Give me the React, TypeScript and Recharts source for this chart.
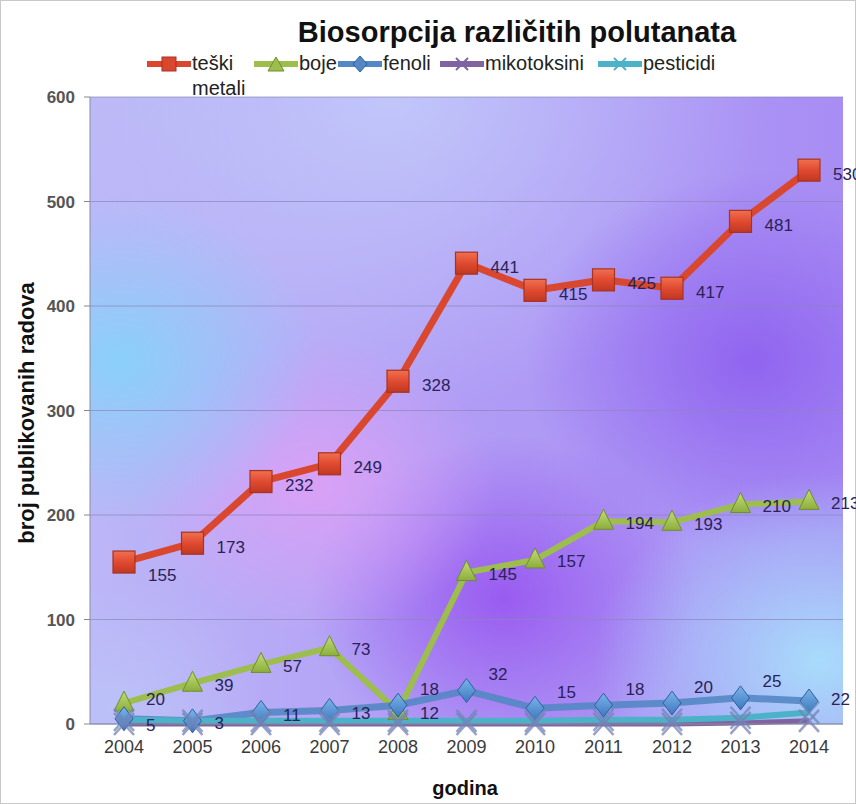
import React from "react"
import {
  LineChart, Line, XAxis, YAxis, CartesianGrid, LabelList,
} from "recharts"

const years = ["2004", "2005", "2006", "2007", "2008", "2009", "2010", "2011", "2012", "2013", "2014"]
const teskiMetali = [155, 173, 232, 249, 328, 441, 415, 425, 417, 481, 530]
const boje = [20, 39, 57, 73, 12, 145, 157, 194, 193, 210, 213]
const fenoli = [5, 3, 11, 13, 18, 32, 15, 18, 20, 25, 22]
const mikotoksini = [0, 0, 0, 0, 0, 0, 0, 0, 0, 1, 3]
const pesticidi = [4, 3, 3, 3, 3, 3, 3, 4, 4, 6, 11]
const yTicks = [0, 100, 200, 300, 400, 500, 600]

const data = years.map((g, i) => ({
  godina: g,
  teski: teskiMetali[i],
  boje: boje[i],
  fenoli: fenoli[i],
  mikotoksini: mikotoksini[i],
  pesticidi: pesticidi[i],
}))

const FONT = "'Liberation Sans', Arial, sans-serif"
const RED = "#d9472f"
const GREEN = "#9dbe4c"
const BLUE = "#5487c4"
const PURPLE = "#8064a2"
const TEAL = "#4bb2c8"

// markers
const square = (p: any) => (
  <rect key={`sq-${p.index}`} x={p.cx - 11} y={p.cy - 11} width={22} height={22}
    fill="url(#sqGrad)" stroke="#a83220" strokeWidth={1.2} />
)
const triangle = (p: any) => (
  <polygon key={`tr-${p.index}`}
    points={`${p.cx},${p.cy - 12} ${p.cx - 10},${p.cy + 8} ${p.cx + 10},${p.cy + 8}`}
    fill="url(#triGrad)" stroke="#6f8f2c" strokeWidth={1} />
)
const diamond = (p: any) => (
  <polygon key={`di-${p.index}`}
    points={`${p.cx},${p.cy - 12} ${p.cx + 9},${p.cy} ${p.cx},${p.cy + 12} ${p.cx - 9},${p.cy}`}
    fill="url(#diGrad)" stroke="#2f5f9c" strokeWidth={1} />
)
const cross = (color: string) => (p: any) => (
  <g key={`x-${p.index}`} stroke={color} strokeWidth={2.5} opacity={0.75}>
    <line x1={p.cx - 10} y1={p.cy - 11} x2={p.cx + 10} y2={p.cy + 11} />
    <line x1={p.cx - 10} y1={p.cy + 11} x2={p.cx + 10} y2={p.cy - 11} />
  </g>
)

const mkLabel = (dx: number, dy: (i: number) => number) => (p: any) => (
  <text key={`lb-${p.index}`} x={p.x + dx} y={p.y + dy(p.index)} fontSize={17} fontFamily={FONT}
    fill="#2a2258" dominantBaseline="middle">{p.value}</text>
)

// fenoli labels: level with the point early on, above it later, level at the end
const fenoliDy = (i: number) => (i === 0 ? 8 : i < 4 ? 4 : i === 10 ? 0 : -15)

const legendItems = [
  { name: "teški\nmetali", color: RED, mark: "sq", left: 147 },
  { name: "boje", color: GREEN, mark: "tri", left: 254 },
  { name: "fenoli", color: BLUE, mark: "di", left: 338 },
  { name: "mikotoksini", color: PURPLE, mark: "x", left: 440 },
  { name: "pesticidi", color: TEAL, mark: "x", left: 598 },
]

function LegendMark({ color, mark }: { color: string; mark: string }) {
  return (
    <svg width={44} height={16} style={{ display: "block" }}>
      <line x1={0} y1={8} x2={44} y2={8} stroke={color} strokeWidth={6} />
      {mark === "sq" && <rect x={15} y={1} width={14} height={14} fill={RED} stroke="#a83220" />}
      {mark === "tri" && <polygon points="22,1 14,15 30,15" fill={GREEN} stroke="#6f8f2c" />}
      {mark === "di" && <polygon points="22,0 29,8 22,16 15,8" fill={BLUE} stroke="#2f5f9c" />}
      {mark === "x" && (
        <g stroke={color} strokeWidth={2}>
          <line x1={16} y1={2} x2={28} y2={14} />
          <line x1={16} y1={14} x2={28} y2={2} />
        </g>
      )}
    </svg>
  )
}

export default function App() {
  return (
    <div style={{ position: "absolute", left: 0, top: 0, width: 856, height: 804, background: "#fff", fontFamily: FONT }}>
      <svg width={0} height={0} style={{ position: "absolute" }}>
        <defs>
          <linearGradient id="bgBase" x1="0" y1="0" x2="1" y2="0">
            <stop offset="0" stopColor="#bcb6f7" />
            <stop offset="0.5" stopColor="#b09cf5" />
            <stop offset="1" stopColor="#a88ef4" />
          </linearGradient>
          <radialGradient id="bgTop" cx="0.4" cy="0" r="0.5">
            <stop offset="0" stopColor="#c2c8fa" stopOpacity={0.95} />
            <stop offset="1" stopColor="#c2c8fa" stopOpacity={0} />
          </radialGradient>
          <radialGradient id="bgPurpleR" cx="0.88" cy="0.42" r="0.3">
            <stop offset="0" stopColor="#8f62ef" stopOpacity={0.95} />
            <stop offset="1" stopColor="#8f62ef" stopOpacity={0} />
          </radialGradient>
          <radialGradient id="bgPurpleC" cx="0.55" cy="0.8" r="0.26">
            <stop offset="0" stopColor="#9858f0" stopOpacity={0.95} />
            <stop offset="1" stopColor="#9858f0" stopOpacity={0} />
          </radialGradient>
          <radialGradient id="bgPink" cx="0.3" cy="0.62" r="0.24">
            <stop offset="0" stopColor="#dda0f6" stopOpacity={0.9} />
            <stop offset="1" stopColor="#dda0f6" stopOpacity={0} />
          </radialGradient>
          <radialGradient id="bgBlueL" cx="0.04" cy="0.42" r="0.26">
            <stop offset="0" stopColor="#8ad0fa" stopOpacity={1} />
            <stop offset="1" stopColor="#8ad0fa" stopOpacity={0} />
          </radialGradient>
          <radialGradient id="bgBlueR" cx="0.97" cy="0.9" r="0.3">
            <stop offset="0" stopColor="#a8dcfb" stopOpacity={1} />
            <stop offset="1" stopColor="#a8dcfb" stopOpacity={0} />
          </radialGradient>
          <radialGradient id="bgLav" cx="0.03" cy="0.97" r="0.2">
            <stop offset="0" stopColor="#bcc2f8" stopOpacity={0.9} />
            <stop offset="1" stopColor="#bcc2f8" stopOpacity={0} />
          </radialGradient>
          <linearGradient id="sqGrad" x1="0" y1="0" x2="0" y2="1">
            <stop offset="0" stopColor="#f07050" />
            <stop offset="0.5" stopColor="#e04a30" />
            <stop offset="1" stopColor="#c03822" />
          </linearGradient>
          <linearGradient id="triGrad" x1="0" y1="0" x2="0" y2="1">
            <stop offset="0" stopColor="#c4dc78" />
            <stop offset="1" stopColor="#8cae3c" />
          </linearGradient>
          <linearGradient id="diGrad" x1="0" y1="0" x2="0" y2="1">
            <stop offset="0" stopColor="#7ab4ea" />
            <stop offset="1" stopColor="#3d78c0" />
          </linearGradient>
        </defs>
      </svg>

      <div style={{ position: "absolute", inset: 0, border: "1px solid #c8c8c8", boxSizing: "border-box", pointerEvents: "none" }} />

      <div style={{ position: "absolute", left: 517, top: 32, transform: "translate(-50%, -50%)", whiteSpace: "nowrap", fontSize: 29, fontWeight: "bold", color: "#111" }}>
        Biosorpcija različitih polutanata
      </div>

      {legendItems.map((it) => (
        <div key={it.name} style={{ position: "absolute", left: it.left, top: 51, display: "flex", alignItems: "flex-start", fontSize: 20, color: "#222" }}>
          <div style={{ marginTop: 5 }}><LegendMark color={it.color} mark={it.mark} /></div>
          <span style={{ whiteSpace: "pre", lineHeight: "25px", marginLeft: 1 }}>{it.name}</span>
        </div>
      ))}

      <div style={{ position: "absolute", left: 27, top: 413, transform: "translate(-50%, -50%) rotate(-90deg)", whiteSpace: "nowrap", fontSize: 22, fontWeight: "bold", color: "#111" }}>
        broj publikovanih radova
      </div>
      <div style={{ position: "absolute", left: 465, top: 788, transform: "translate(-50%, -50%)", fontSize: 20, fontWeight: "bold", color: "#111" }}>
        godina
      </div>

      <div style={{ position: "absolute", left: 0, top: 0 }}>
        <LineChart width={856} height={804} data={data} margin={{ top: 97, right: 13, bottom: 50, left: 30 }}>
          <CartesianGrid fill="url(#bgBase)" fillOpacity={1} horizontal={false} vertical={false} />
          <CartesianGrid fill="url(#bgTop)" fillOpacity={1} horizontal={false} vertical={false} />
          <CartesianGrid fill="url(#bgPurpleR)" fillOpacity={1} horizontal={false} vertical={false} />
          <CartesianGrid fill="url(#bgPurpleC)" fillOpacity={1} horizontal={false} vertical={false} />
          <CartesianGrid fill="url(#bgPink)" fillOpacity={1} horizontal={false} vertical={false} />
          <CartesianGrid fill="url(#bgBlueL)" fillOpacity={1} horizontal={false} vertical={false} />
          <CartesianGrid fill="url(#bgBlueR)" fillOpacity={1} horizontal={false} vertical={false} />
          <CartesianGrid fill="url(#bgLav)" fillOpacity={1} horizontal={false} vertical={false} />
          <CartesianGrid vertical={false} stroke="#8a88b8" strokeOpacity={0.7} />
          <XAxis dataKey="godina" height={30} tickLine={false} axisLine={{ stroke: "#8a8aa0" }}
            padding={{ left: 34, right: 34 }} tickMargin={10}
            tick={{ fontSize: 18, fill: "#3a3a3a", fontFamily: FONT }} />
          <YAxis width={60} domain={[0, 600]} ticks={yTicks} tickSize={6} tickMargin={9} tickLine={{ stroke: "#888" }}
            axisLine={{ stroke: "#8a8aa0" }} tick={{ fontSize: 17, fontWeight: "bold", fill: "#555", fontFamily: FONT }} />
          <Line dataKey="teski" stroke={RED} strokeWidth={7} dot={square} activeDot={false} isAnimationActive={false}>
            <LabelList dataKey="teski" content={mkLabel(24, (i) => (i === 0 ? 14 : 5))} />
          </Line>
          <Line dataKey="boje" stroke={GREEN} strokeWidth={6} dot={triangle} activeDot={false} isAnimationActive={false}>
            <LabelList dataKey="boje" content={mkLabel(22, (i) => (i === 0 ? -3 : 3))} />
          </Line>
          <Line dataKey="fenoli" stroke={BLUE} strokeWidth={7} strokeOpacity={0.9} dot={diamond} activeDot={false} isAnimationActive={false}>
            <LabelList dataKey="fenoli" content={mkLabel(22, fenoliDy)} />
          </Line>
          <Line dataKey="mikotoksini" stroke={PURPLE} strokeWidth={5} dot={cross("#7a7fb8")} activeDot={false} isAnimationActive={false} />
          <Line dataKey="pesticidi" stroke={TEAL} strokeWidth={6} dot={cross("#6a8ab8")} activeDot={false} isAnimationActive={false} />
        </LineChart>
      </div>
    </div>
  )
}
